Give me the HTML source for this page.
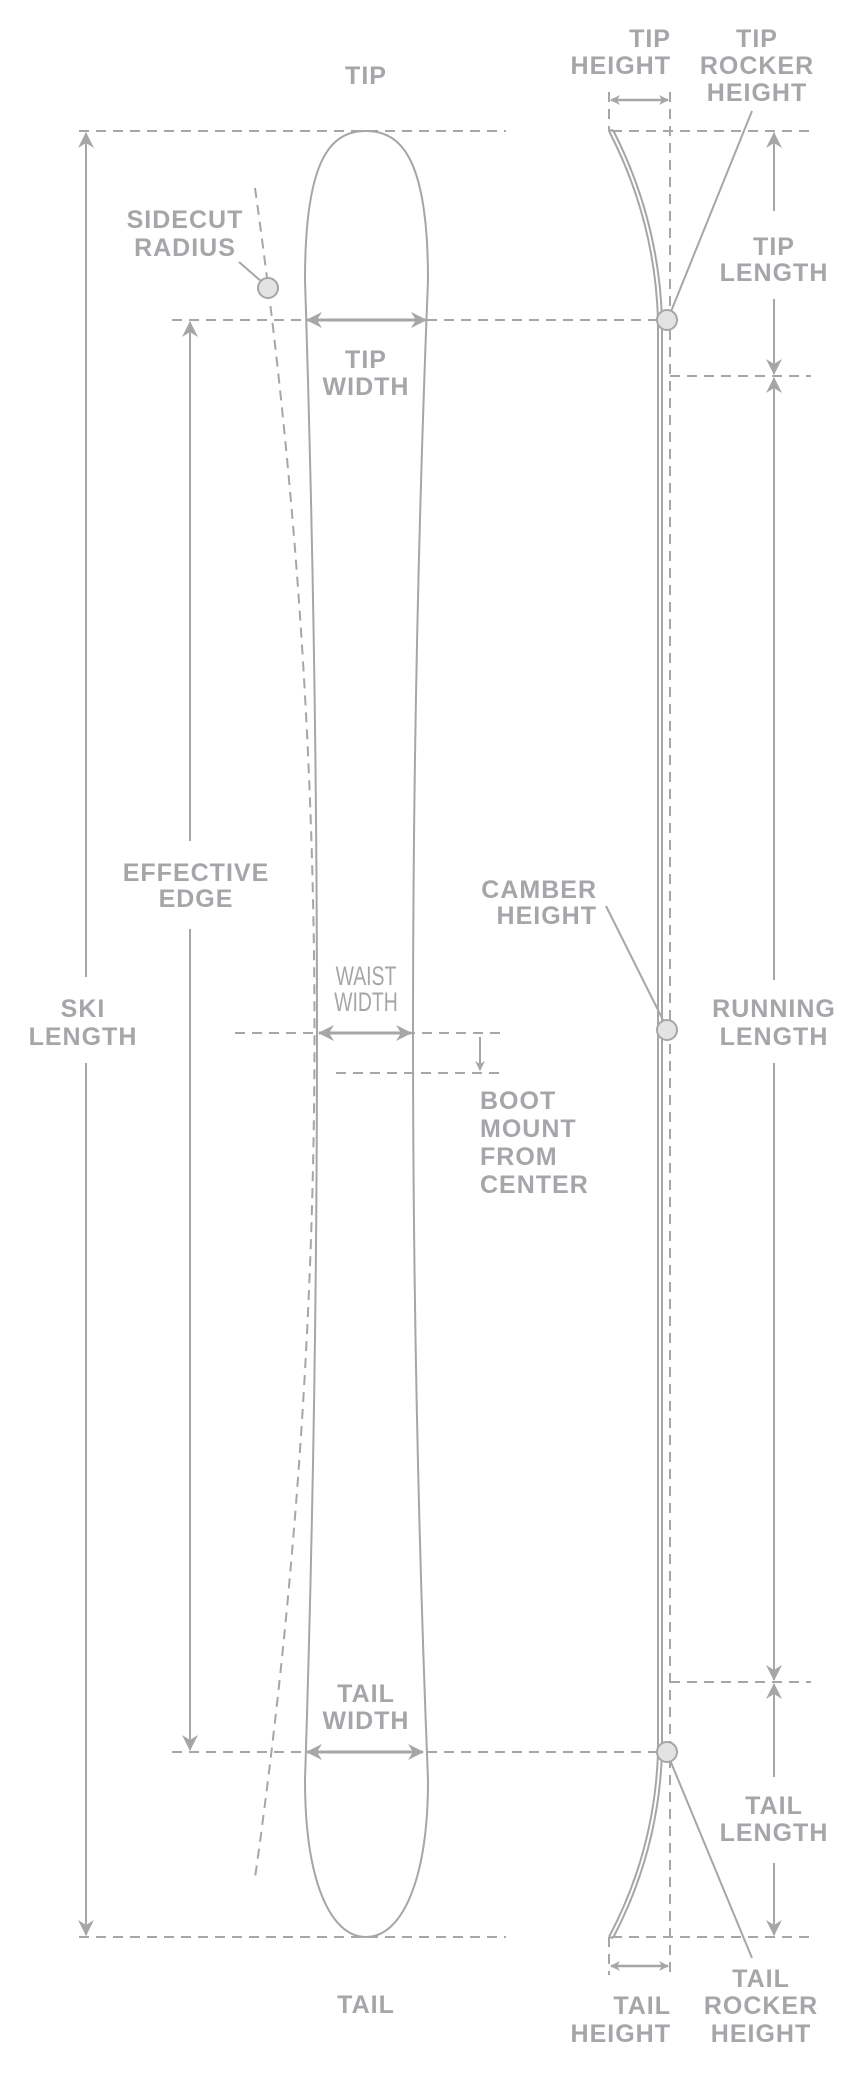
<!DOCTYPE html>
<html><head><meta charset="utf-8"><style>
html,body{margin:0;padding:0;background:#fff}
svg{display:block}
text{font-family:"Liberation Sans",sans-serif;font-weight:bold;font-size:25px;letter-spacing:1px;fill:#a5a6a9}
</style></head><body>
<svg width="864" height="2078" viewBox="0 0 864 2078" xmlns="http://www.w3.org/2000/svg">
<defs>
<marker id="a" markerWidth="10" markerHeight="10" refX="9" refY="5" orient="auto-start-reverse" markerUnits="userSpaceOnUse"><path d="M0,0 L10,5 L0,10 L3,5 Z" fill="#a6a6a8"/></marker>
<marker id="b" markerWidth="16" markerHeight="16" refX="15" refY="8" orient="auto-start-reverse" markerUnits="userSpaceOnUse"><path d="M0,0 L16,8 L0,16 L5,8 Z" fill="#a6a6a8"/></marker>
</defs>
<g stroke="#a6a6a8" stroke-width="2" fill="none">
<g stroke-dasharray="10,7">
<line x1="79" y1="131" x2="506" y2="131"/>
<line x1="612" y1="131" x2="811" y2="131"/>
<line x1="172" y1="320" x2="667" y2="320"/>
<line x1="670" y1="376" x2="811" y2="376"/>
<line x1="235" y1="1033" x2="506" y2="1033"/>
<line x1="336" y1="1073" x2="506" y2="1073"/>
<line x1="670" y1="1682" x2="811" y2="1682"/>
<line x1="172" y1="1752" x2="667" y2="1752"/>
<line x1="79" y1="1937" x2="506" y2="1937"/>
<line x1="612" y1="1937" x2="811" y2="1937"/>
<line x1="670" y1="92" x2="670" y2="1975"/>
<line x1="609" y1="92" x2="609" y2="131"/>
<line x1="609" y1="1937" x2="609" y2="1975"/>
<path d="M255 188 Q 374 1033 255 1878"/>
</g>
<path d="M366 131 C 330 131 305 160 305 280 Q 329 1033 305 1780 C 305 1880 330 1937 366 1937 C 402 1937 428 1880 428 1780 Q 398 1033 428 280 C 428 160 402 131 366 131 Z"/>
<path d="M609 131 Q 655 220 658 320 L 658 1752 Q 655 1850 609 1937"/>
<path d="M613 130 Q 659 220 662 320 L 662 1752 Q 659 1850 613 1938"/>
<line x1="609" y1="131" x2="613" y2="130"/>
<line x1="609" y1="1937" x2="613" y2="1938"/>
<line x1="86" y1="133" x2="86" y2="977" marker-start="url(#b)"/>
<line x1="86" y1="1063" x2="86" y2="1935" marker-end="url(#b)"/>
<line x1="190" y1="322" x2="190" y2="841" marker-start="url(#b)"/>
<line x1="190" y1="929" x2="190" y2="1750" marker-end="url(#b)"/>
<line x1="307" y1="320" x2="426" y2="320" marker-start="url(#b)" marker-end="url(#b)" stroke-width="3"/>
<line x1="319" y1="1033" x2="411" y2="1033" marker-start="url(#b)" marker-end="url(#b)" stroke-width="3"/>
<line x1="307" y1="1752" x2="423" y2="1752" marker-start="url(#b)" marker-end="url(#b)" stroke-width="3"/>
<line x1="480" y1="1037" x2="480" y2="1070" marker-end="url(#a)"/>
<line x1="611" y1="100" x2="668" y2="100" marker-start="url(#a)" marker-end="url(#a)" stroke-width="2.5"/>
<line x1="611" y1="1966" x2="668" y2="1966" marker-start="url(#a)" marker-end="url(#a)" stroke-width="2.5"/>
<line x1="774" y1="133" x2="774" y2="211" marker-start="url(#b)"/>
<line x1="774" y1="299" x2="774" y2="374" marker-end="url(#b)"/>
<line x1="774" y1="378" x2="774" y2="980" marker-start="url(#b)"/>
<line x1="774" y1="1063" x2="774" y2="1680" marker-end="url(#b)"/>
<line x1="774" y1="1684" x2="774" y2="1777" marker-start="url(#b)"/>
<line x1="774" y1="1863" x2="774" y2="1935" marker-end="url(#b)"/>
<line x1="239" y1="262" x2="262" y2="282"/>
<line x1="752" y1="111" x2="670" y2="314"/>
<line x1="606" y1="906" x2="664" y2="1022"/>
<line x1="670" y1="1760" x2="752" y2="1958"/>
</g>
<g fill="#e3e3e4" stroke="#a6a6a8" stroke-width="2">
<ellipse cx="268" cy="288" rx="10" ry="10"/>
<ellipse cx="667" cy="320" rx="10" ry="10"/>
<ellipse cx="667" cy="1030" rx="10" ry="10"/>
<ellipse cx="667" cy="1752" rx="10" ry="10"/>
</g>
<g text-anchor="middle">
<text x="366" y="84">TIP</text>
<text x="366" y="2013">TAIL</text>
<text x="185" y="228">SIDECUT</text><text x="185" y="256">RADIUS</text>
<text x="366" y="368">TIP</text><text x="366" y="395">WIDTH</text>
<text x="196" y="881">EFFECTIVE</text><text x="196" y="907">EDGE</text>
<text x="83" y="1017">SKI</text><text x="83" y="1045">LENGTH</text>
<text x="366" y="985" style="font-size:27px;font-weight:normal;letter-spacing:0" transform="translate(366 0) scale(0.72 1) translate(-366 0)">WAIST</text>
<text x="366" y="1011" style="font-size:27px;font-weight:normal;letter-spacing:0" transform="translate(366 0) scale(0.72 1) translate(-366 0)">WIDTH</text>
<text x="366" y="1702">TAIL</text><text x="366" y="1729">WIDTH</text>
<text x="757" y="47">TIP</text><text x="757" y="74">ROCKER</text><text x="757" y="101">HEIGHT</text>
<text x="774" y="255">TIP</text><text x="774" y="281">LENGTH</text>
<text x="774" y="1017">RUNNING</text><text x="774" y="1045">LENGTH</text>
<text x="774" y="1814">TAIL</text><text x="774" y="1841">LENGTH</text>
<text x="761" y="1987">TAIL</text><text x="761" y="2014">ROCKER</text><text x="761" y="2042">HEIGHT</text>
</g>
<g text-anchor="end">
<text x="671" y="47">TIP</text><text x="671" y="74">HEIGHT</text>
<text x="597" y="898">CAMBER</text><text x="597" y="924">HEIGHT</text>
<text x="671" y="2014">TAIL</text><text x="671" y="2042">HEIGHT</text>
</g>
<g>
<text x="480" y="1109">BOOT</text><text x="480" y="1137">MOUNT</text><text x="480" y="1165">FROM</text><text x="480" y="1193">CENTER</text>
</g>
</svg>
</body></html>
